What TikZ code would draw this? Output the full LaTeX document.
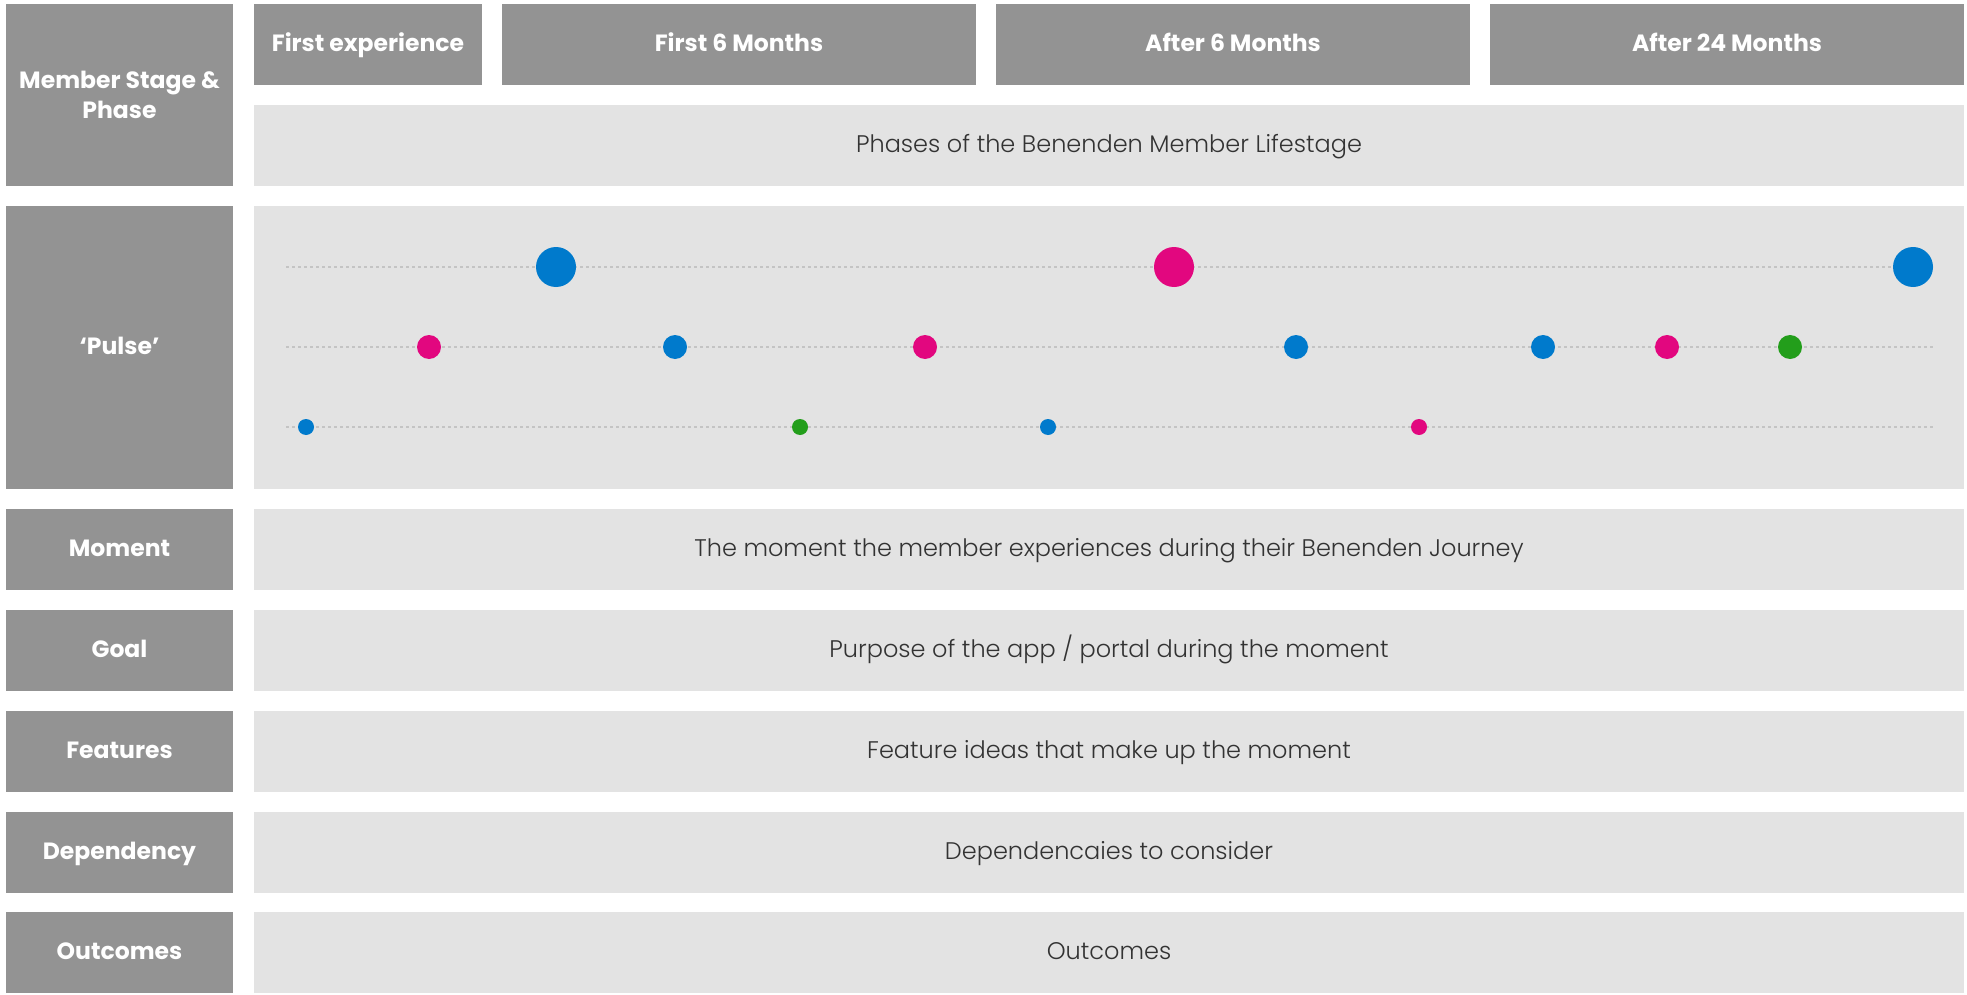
\documentclass[tikz,border=0pt]{standalone}
\usepackage{fontspec}
\setmainfont{Poppins}
\newfontfamily\lightfont{Poppins Light}
\definecolor{hdr}{HTML}{939393}
\definecolor{cell}{HTML}{E3E3E3}
\definecolor{txt}{HTML}{333333}
\definecolor{pblue}{HTML}{007ACC}
\definecolor{pmag}{HTML}{E2077F}
\definecolor{pgreen}{HTML}{239E1B}
\definecolor{dotc}{HTML}{C4C4C4}
\tikzset{
  hdrbox/.style={fill=hdr, draw=none, inner sep=0pt, text=white, align=center,
    font=\fontsize{23.5}{30}\selectfont\bfseries, text height=18pt, text depth=4.6pt},
  cellbox/.style={fill=cell, draw=none, inner sep=0pt, text=txt, align=center,
    font=\fontsize{24}{30}\selectfont\lightfont, text height=18.4pt, text depth=4pt},
  pulseline/.style={draw=dotc, line width=1.5pt, dash pattern=on 3pt off 3pt},
  bigdot/.style={circle, inner sep=0pt, minimum size=40pt, draw=none},
  middot/.style={circle, inner sep=0pt, minimum size=24pt, draw=none},
  smalldot/.style={circle, inner sep=0pt, minimum size=16pt, draw=none},
}
\begin{document}
\begin{tikzpicture}[x=1pt,y=-1pt]
\useasboundingbox (0,0) rectangle (1967,995);
% left column labels
\node[hdrbox, text height={}, text depth={}, minimum width=227pt, minimum height=182pt] (stage) at (119.5,95) {Member Stage \&\\Phase};
\node[hdrbox, minimum width=227pt, minimum height=283pt] (pulse) at (119.5,347.5) {‘Pulse’};
\node[hdrbox, minimum width=227pt, minimum height=81pt] (moment) at (119.5,549.5) {Moment};
\node[hdrbox, minimum width=227pt, minimum height=81pt] (goal) at (119.5,650.5) {Goal};
\node[hdrbox, minimum width=227pt, minimum height=81pt] (features) at (119.5,751.5) {Features};
\node[hdrbox, minimum width=227pt, minimum height=81pt] (dependency) at (119.5,852.5) {Dependency};
\node[hdrbox, minimum width=227pt, minimum height=81pt] (outcomes) at (119.5,952.5) {Outcomes};
% stage headers
\node[hdrbox, minimum width=228pt, minimum height=81pt] (first) at (368,44.5) {First experience};
\node[hdrbox, minimum width=474pt, minimum height=81pt] (six) at (739,44.5) {First 6 Months};
\node[hdrbox, minimum width=474pt, minimum height=81pt] (after6) at (1233,44.5) {After 6 Months};
\node[hdrbox, minimum width=474pt, minimum height=81pt] (after24) at (1727,44.5) {After 24 Months};
% content cells
\node[cellbox, minimum width=1710pt, minimum height=81pt] (phases) at (1109,145.5) {Phases of the Benenden Member Lifestage};
\node[cellbox, minimum width=1710pt, minimum height=283pt] (pulsecell) at (1109,347.5) {};
\node[cellbox, minimum width=1710pt, minimum height=81pt] (momentcell) at (1109,549.5) {The moment the member experiences during their Benenden Journey};
\node[cellbox, minimum width=1710pt, minimum height=81pt] (goalcell) at (1109,650.5) {Purpose of the app / portal during the moment};
\node[cellbox, minimum width=1710pt, minimum height=81pt] (featcell) at (1109,751.5) {Feature ideas that make up the moment};
\node[cellbox, minimum width=1710pt, minimum height=81pt] (depcell) at (1109,852.5) {Dependencaies to consider};
\node[cellbox, minimum width=1710pt, minimum height=81pt] (outcell) at (1109,952.5) {Outcomes};
% pulse guide lines
\coordinate (l1a) at (286,267); \coordinate (l1b) at (1933,267);
\coordinate (l2a) at (286,347); \coordinate (l2b) at (1933,347);
\coordinate (l3a) at (286,427); \coordinate (l3b) at (1933,427);
\draw[pulseline] (l1a) -- (l1b);
\draw[pulseline] (l2a) -- (l2b);
\draw[pulseline] (l3a) -- (l3b);
% row 1
\node[bigdot, fill=pblue] (a1) at (556,267) {};
\node[bigdot, fill=pmag] (a2) at (1174,267) {};
\node[bigdot, fill=pblue] (a3) at (1913,267) {};
% row 2
\node[middot, fill=pmag] (b1) at (429,347) {};
\node[middot, fill=pblue] (b2) at (675,347) {};
\node[middot, fill=pmag] (b3) at (925,347) {};
\node[middot, fill=pblue] (b4) at (1296,347) {};
\node[middot, fill=pblue] (b5) at (1543,347) {};
\node[middot, fill=pmag] (b6) at (1667,347) {};
\node[middot, fill=pgreen] (b7) at (1790,347) {};
% row 3
\node[smalldot, fill=pblue] (c1) at (306,427) {};
\node[smalldot, fill=pgreen] (c2) at (800,427) {};
\node[smalldot, fill=pblue] (c3) at (1048,427) {};
\node[smalldot, fill=pmag] (c4) at (1419,427) {};
\end{tikzpicture}
\end{document}
